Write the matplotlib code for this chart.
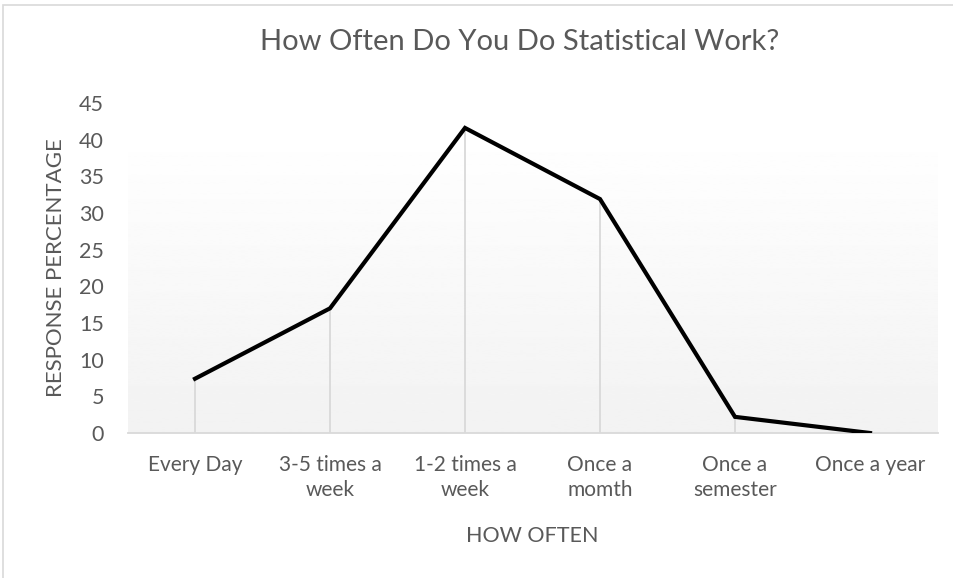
import numpy as np
import matplotlib
matplotlib.use("Agg")
import matplotlib.pyplot as plt
from matplotlib.patches import Rectangle

categories = ["Every Day", "3-5 times a\nweek", "1-2 times a\nweek", "Once a\nmomth", "Once a\nsemester", "Once a year"]
values = [7.4, 17.0, 41.6, 31.9, 2.2, 0.0]
yticks = [0, 5, 10, 15, 20, 25, 30, 35, 40, 45]
title = "How Often Do You Do Statistical Work?"
xlabel = "HOW OFTEN"
ylabel = "RESPONSE PERCENTAGE"

W, H = 954, 578
fig = plt.figure(figsize=(W / 100, H / 100), dpi=100)
fig.patch.set_facecolor("white")
plt.rcParams['font.family'] = ['Lato', 'DejaVu Sans']

txt = "#595959"
grid = "#d9d9d9"

# chart border
fig.patches.append(Rectangle((3 / W, -0.1), 1.1, 1 - 5 / H + 0.1, transform=fig.transFigure,
                             fill=False, edgecolor=grid, linewidth=1.2))

L, R, T, B = 127.5, 937.5, 103, 433
ax = fig.add_axes([L / W, 1 - B / H, (R - L) / W, (B - T) / H])
ax.set_facecolor("none")
x = np.arange(len(categories))
ax.set_xlim(-0.5, len(categories) - 0.5)
ax.set_ylim(0, 45)

# gradient plot-area fill
grad = np.linspace(0.997, 0.949, 256).reshape(-1, 1)
ax.imshow(grad, cmap="gray", vmin=0, vmax=1, aspect="auto",
          extent=[-0.5, len(categories) - 0.5, 0, 39], origin="upper", zorder=0)

# drop lines
ax.vlines(x, 0, values, colors=grid, linewidth=1.3, zorder=1)
ax.plot(x, values, color="black", linewidth=3.0, solid_joinstyle="miter", zorder=3)

for s in ["top", "right", "left"]:
    ax.spines[s].set_visible(False)
ax.spines["bottom"].set_color(grid)
ax.spines["bottom"].set_linewidth(1.3)

ax.set_yticks(yticks)
ax.set_yticklabels([str(v) for v in yticks])
ax.set_xticks(x)
ax.set_xticklabels(categories, linespacing=1.3)
ax.tick_params(axis="y", length=0, pad=17, labelsize=15.5, labelcolor=txt)
ax.tick_params(axis="x", length=0, pad=16, labelsize=15, labelcolor=txt)

fig.text(56 / W, 1 - 268 / H, ylabel, rotation=90, ha="center", va="center",
         fontsize=16, color=txt)
fig.text(532 / W, 1 - 536 / H, xlabel, ha="center", va="center", fontsize=15.5, color=txt)
fig.text(520 / W, 1 - 42 / H, title, ha="center", va="center", fontsize=21, color=txt)

fig.savefig("out.png", dpi=100)
